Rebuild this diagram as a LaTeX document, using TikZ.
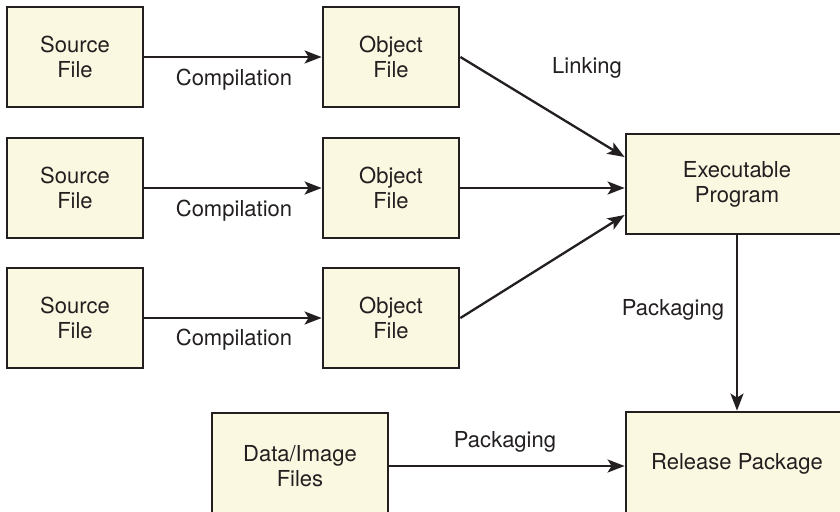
\documentclass[tikz,border=0pt]{standalone}
\usepackage{fontspec}
\setmainfont{TeX Gyre Heros}
\usetikzlibrary{arrows.meta,calc}
\definecolor{boxfill}{RGB}{251,248,225}
\definecolor{ink}{RGB}{35,31,32}
\begin{document}
\begin{tikzpicture}[x=1pt,y=-1pt,
  font=\fontsize{22}{25}\selectfont,
  filebox/.style={draw=ink,fill=boxfill,line width=2.8pt,align=center,text=ink,
    inner sep=0pt,minimum width=136pt,minimum height=100pt},
  bigbox/.style={filebox,minimum width=222pt,minimum height=100pt},
  conn/.style={draw=ink,line width=2.3pt,-{Stealth[length=17pt,width=13pt,inset=4pt]}},
  lbl/.style={text=ink,inner sep=0pt,anchor=center}]
\clip (0,0) rectangle (840,511);
\useasboundingbox (0,0) rectangle (840,511);
\fill[white] (0,0) rectangle (840,511);

\node[filebox] (src1) at (75,57) {Source\\File};
\node[filebox] (src2) at (75,188) {Source\\File};
\node[filebox] (src3) at (75,318) {Source\\File};
\node[filebox] (obj1) at (391,57) {Object\\File};
\node[filebox] (obj2) at (391,188) {Object\\File};
\node[filebox] (obj3) at (391,318) {Object\\File};
\node[bigbox] (exe) at (737,184) {Executable\\Program};
\node[bigbox,minimum height=104pt] (rel) at (737,464) {Release Package};
\node[filebox,minimum width=176pt,minimum height=106pt] (data) at (300,466) {Data/Image\\Files};

\draw[conn] (src1.east) -- (obj1.west);
\draw[conn] (src2.east) -- (obj2.west);
\draw[conn] (src3.east) -- (obj3.west);
\draw[conn] (obj1.east) -- ([yshift=27pt]exe.west);
\draw[conn] (obj2.east) -- (obj2.east -| exe.west);
\draw[conn] (obj3.east) -- ([yshift=-31pt]exe.west);
\draw[conn] (exe.south) -- (rel.north);
\draw[conn] (data.east) -- (data.east -| rel.west);

\node[lbl] (c1) at (234,80) {Compilation};
\node[lbl] (c2) at (234,211) {Compilation};
\node[lbl] (c3) at (234,340) {Compilation};
\node[lbl] (lk) at (587,68) {Linking};
\node[lbl] (p1) at (673,310) {Packaging};
\node[lbl] (p2) at (505,442) {Packaging};
\end{tikzpicture}
\end{document}
